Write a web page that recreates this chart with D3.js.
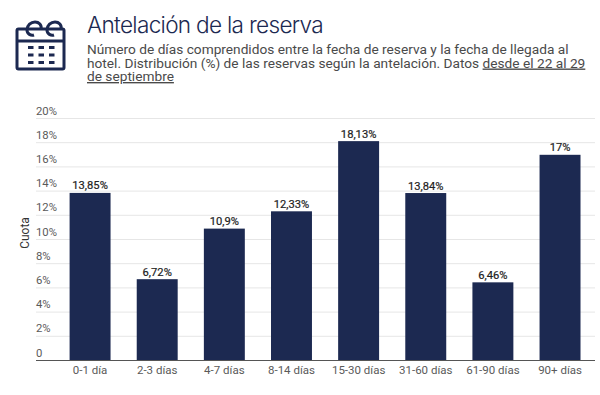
<!DOCTYPE html>
<html>
<head>
<meta charset="utf-8">
<script src="https://cdnjs.cloudflare.com/ajax/libs/d3/7.8.5/d3.min.js"></script>
<style>
  html, body { margin: 0; padding: 0; background: #fff; }
  text { font-family: Roboto, sans-serif; }
</style>
</head>
<body>
<div id="chart"></div>
<script>
const categories = ["0-1 día", "2-3 días", "4-7 días", "8-14 días", "15-30 días", "31-60 días", "61-90 días", "90+ días"];
const values = [13.85, 6.72, 10.9, 12.33, 18.13, 13.84, 6.46, 17];
const valueLabels = ["13,85%", "6,72%", "10,9%", "12,33%", "18,13%", "13,84%", "6,46%", "17%"];
const yTicks = [0, 2, 4, 6, 8, 10, 12, 14, 16, 18, 20];
const subtitleLines = [
  "Número de días comprendidos entre la fecha de reserva y la fecha de llegada al",
  "hotel. Distribución (%) de las reservas según la antelación. Datos ",
  "de septiembre"
];

const navy = "#1c2951";

const svg = d3.select("#chart").append("svg")
  .attr("width", 600)
  .attr("height", 395)
  .style("display", "block");

// header icon
const icon = svg.append("g")
  .attr("fill", "none")
  .attr("stroke", navy)
  .attr("stroke-width", 3);
icon.append("rect").attr("x", 17).attr("y", 29).attr("width", 47).attr("height", 40).attr("rx", 1.5);
icon.append("line").attr("x1", 17).attr("x2", 64).attr("y1", 41).attr("y2", 41);
icon.append("path").attr("d", "M34 35c-3 1-7-1-7-5 0-5 4-8 8-8s7 3 6 7");
icon.append("path").attr("d", "M54 35c-3 1-7-1-7-5 0-5 4-8 8-8s7 3 6 7");
[0, 1, 2].forEach((r) => {
  [0, 1, 2].forEach((c) => {
    svg.append("rect")
      .attr("x", 28 + c * 10.5).attr("y", 46 + r * 7.5)
      .attr("width", 5.5).attr("height", 3)
      .attr("fill", navy);
  });
});

// title + subtitle
svg.append("text")
  .attr("x", 87).attr("y", 33)
  .attr("fill", navy)
  .style("font-family", "Inter")
  .style("font-size", "22.6px")
  .style("font-weight", 300)
  .style("letter-spacing", "-0.7px")
  .text("Antelación de la reserva");

const sub = svg.append("g")
  .attr("fill", "#4a4a4a")
  .style("font-size", "13.7px");
subtitleLines.forEach((line, i) => {
  const t = sub.append("text").attr("x", 87).attr("y", 54 + i * 13.5).text(line);
  if (i === 1) t.append("tspan").attr("text-decoration", "underline").text("desde el 22 al 29");
  if (i === 2) t.attr("text-decoration", "underline");
});

// scales
const x = d3.scaleBand()
  .domain(categories)
  .range([56.5, 593.6])
  .paddingInner(0.39)
  .paddingOuter(0.195);

const y = d3.scaleLinear()
  .domain([0, 20])
  .range([360.5, 118.5]);

// gridlines
svg.append("g")
  .selectAll("line")
  .data(yTicks.filter((d) => d > 0))
  .join("line")
  .attr("x1", 36).attr("x2", 595)
  .attr("y1", (d) => y(d)).attr("y2", (d) => y(d))
  .attr("stroke", "#e6e6e6");

// y tick labels sit above their gridline
svg.append("g")
  .selectAll("text")
  .data(yTicks)
  .join("text")
  .attr("x", 36)
  .attr("y", (d) => y(d) - 4)
  .attr("fill", "#5a5a5a")
  .style("font-size", "11.3px")
  .text((d) => (d === 0 ? "0" : d + "%"));

svg.append("text")
  .attr("transform", `translate(29,${233}) rotate(-90)`)
  .attr("text-anchor", "middle")
  .attr("fill", "#333")
  .style("font-size", "12px")
  .text("Cuota");

// bars
svg.append("g")
  .selectAll("rect")
  .data(values)
  .join("rect")
  .attr("x", (d, i) => x(categories[i]))
  .attr("y", (d) => y(d))
  .attr("width", x.bandwidth())
  .attr("height", (d) => y(0) - y(d))
  .attr("fill", navy);

svg.append("g")
  .selectAll("text")
  .data(values)
  .join("text")
  .attr("x", (d, i) => x(categories[i]) + x.bandwidth() / 2)
  .attr("y", (d) => y(d) - 3.5)
  .attr("text-anchor", "middle")
  .attr("fill", "#222")
  .attr("stroke", "#222")
  .attr("stroke-width", 0.2)
  .style("font-size", "11.2px")
  .style("font-weight", 400)
  .text((d, i) => valueLabels[i]);

// x axis
const xAxis = svg.append("g")
  .attr("transform", `translate(0,${y(0)})`)
  .call(d3.axisBottom(x).tickSize(0).tickPadding(5.5));
xAxis.select(".domain").remove();
xAxis.selectAll("text")
  .attr("fill", "#5a5a5a")
  .style("font-family", "Roboto")
  .style("font-size", "11.5px");
svg.append("line")
  .attr("x1", 36).attr("x2", 595)
  .attr("y1", y(0)).attr("y2", y(0))
  .attr("stroke", "#555")
  .attr("stroke-width", 1.2);
</script>
</body>
</html>
